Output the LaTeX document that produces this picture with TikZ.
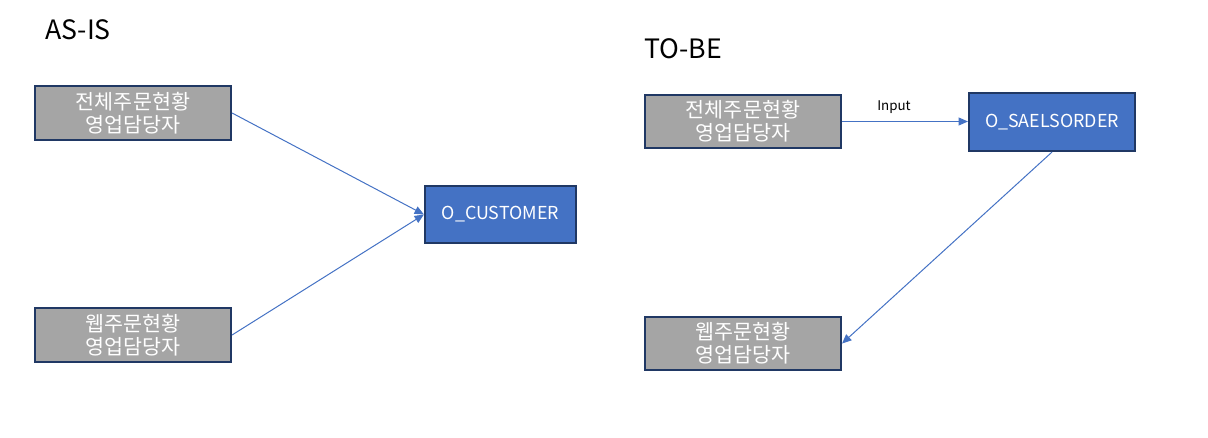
\documentclass[tikz,border=0pt]{standalone}
\usepackage{fontspec}
\setmainfont{Noto Sans CJK KR}
\usetikzlibrary{arrows.meta}
\definecolor{boxgray}{HTML}{A5A5A5}
\definecolor{boxblue}{HTML}{4472C4}
\definecolor{edge}{HTML}{203864}
\definecolor{conn}{HTML}{4472C4}
\begin{document}
\begin{tikzpicture}[x=0.75pt,y=-0.75pt,
  graybox/.style={draw=edge,line width=1.6pt,fill=boxgray,text=white,inner sep=0pt,
    font=\fontsize{15.5}{17}\selectfont,align=center},
  bluebox/.style={draw=edge,line width=1.6pt,fill=boxblue,text=white,inner sep=0pt,
    font=\fontsize{13.4}{15}\selectfont,align=center},
  conn/.style={draw=conn,line width=0.75pt,-{Triangle[length=7pt,width=6pt]}},
  heading/.style={font=\fontsize{20}{24}\selectfont,anchor=west,inner sep=0pt}]
\useasboundingbox (0,0) rectangle (1208,438);
\node[heading] (asis) at (45,30) {AS-IS};
\node[heading] (tobe) at (644,49) {TO-BE};
\node[graybox,minimum width=196*0.75pt,minimum height=54*0.75pt] (a1) at (133,113) {전체주문현황\\영업담당자};
\node[graybox,minimum width=196*0.75pt,minimum height=54*0.75pt] (a2) at (133,335) {웹주문현황\\영업담당자};
\node[bluebox,minimum width=151*0.75pt,minimum height=57*0.75pt] (c) at (500.5,214.5) {O\_CUSTOMER};
\node[graybox,minimum width=196*0.75pt,minimum height=53*0.75pt] (b1) at (743,121.5) {전체주문현황\\영업담당자};
\node[bluebox,minimum width=166*0.75pt,minimum height=58*0.75pt] (s) at (1052,122) {O\_SAELSORDER};
\node[graybox,minimum width=196*0.75pt,minimum height=53*0.75pt] (b2) at (743,343.5) {웹주문현황\\영업담당자};
\draw[conn] (a1.east) -- (c.west);
\draw[conn] (a2.east) -- (c.west);
\draw[conn] (b1.east) -- (s.west|-b1.east);
\node[text=black,font=\fontsize{10}{12}\selectfont,inner sep=0pt] (inl) at (894,107) {Input};
\draw[conn] (s.south) -- (b2.east);
\end{tikzpicture}
\end{document}
